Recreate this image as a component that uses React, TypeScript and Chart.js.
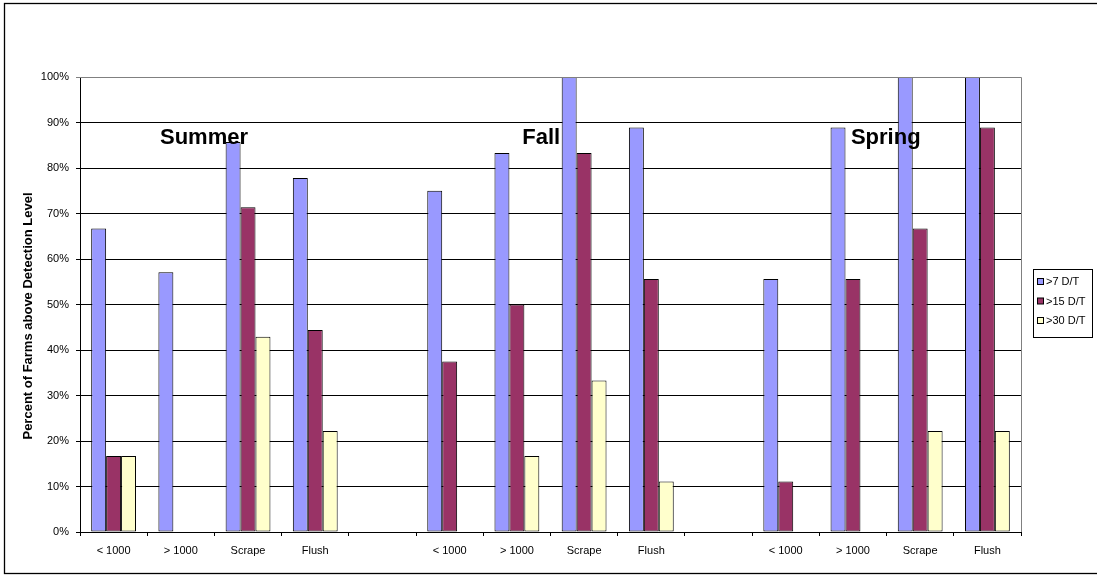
import { useEffect, useRef } from 'react';
import { Chart, registerables } from 'chart.js';

Chart.register(...registerables);

const categories = ['< 1000', '> 1000', 'Scrape', 'Flush', '', '< 1000', '> 1000', 'Scrape', 'Flush', '', '< 1000', '> 1000', 'Scrape', 'Flush'];
const over7 = [66.7, 57.1, 85.7, 77.8, null, 75, 83.3, 100, 88.9, null, 55.6, 88.9, 100, 100];
const over15 = [16.7, 0, 71.4, 44.4, null, 37.5, 50, 83.3, 55.6, null, 11.1, 55.6, 66.7, 88.9];
const over30 = [16.7, 0, 42.9, 22.2, null, 0, 16.7, 33.3, 11.1, null, 0, 0, 22.2, 22.2];
const seriesLabels = ['>7 D/T', '>15 D/T', '>30 D/T'];
const seriesColors = ['#9999FF', '#993366', '#FFFFCC'];
const seasonLabels = ['Summer', 'Fall', 'Spring'];
const yAxisTitle = 'Percent of Farms above Detection Level';

const FONT = "'Liberation Sans', Arial, sans-serif";

const decorPlugin = {
  id: 'decor',
  beforeDraw(chart: any) {
    const { ctx } = chart;
    ctx.save();
    ctx.strokeStyle = '#000';
    ctx.lineWidth = 1.3;
    ctx.strokeRect(4.5, 3.5, 1200, 570);
    ctx.restore();
  },
  afterDraw(chart: any) {
    const { ctx, chartArea } = chart;
    ctx.save();
    // plot area grey top/right border
    ctx.strokeStyle = '#808080';
    ctx.lineWidth = 1;
    ctx.beginPath();
    ctx.moveTo(chartArea.left, chartArea.top + 0.5);
    ctx.lineTo(chartArea.right + 0.5, chartArea.top + 0.5);
    ctx.lineTo(chartArea.right + 0.5, chartArea.bottom);
    ctx.stroke();

    // y axis title
    ctx.save();
    ctx.translate(28, 316);
    ctx.rotate(-Math.PI / 2);
    ctx.fillStyle = '#000';
    ctx.font = `bold 13px ${FONT}`;
    ctx.textAlign = 'center';
    ctx.textBaseline = 'middle';
    ctx.fillText(yAxisTitle, 0, 0);
    ctx.restore();

    // season labels
    const catW = chartArea.width / categories.length;
    const seasonAnchors = [1.19, 6.58, 11.47];
    const yScale = chart.scales.y;
    ctx.fillStyle = '#000';
    ctx.font = `bold 22px ${FONT}`;
    ctx.textAlign = 'left';
    ctx.textBaseline = 'middle';
    seasonLabels.forEach((s, i) => {
      ctx.fillText(s, chartArea.left + seasonAnchors[i] * catW, yScale.getPixelForValue(86.6));
    });

    // legend
    const lx = 1033.5, ly = 269.5, lw = 59, lh = 68;
    ctx.fillStyle = '#fff';
    ctx.fillRect(lx, ly, lw, lh);
    ctx.strokeStyle = '#000';
    ctx.lineWidth = 1;
    ctx.strokeRect(lx, ly, lw, lh);
    ctx.font = `11px ${FONT}`;
    ctx.textBaseline = 'middle';
    seriesLabels.forEach((lab, i) => {
      const cy = 282 + i * 19.5;
      ctx.fillStyle = seriesColors[i];
      ctx.fillRect(1037.5, cy - 3.5, 6, 6);
      ctx.strokeStyle = '#000';
      ctx.strokeRect(1037.5, cy - 3.5, 6, 6);
      ctx.fillStyle = '#000';
      ctx.fillText(lab, 1046, cy);
    });
    ctx.restore();
  },
};

export default function App() {
  const ref = useRef<HTMLCanvasElement>(null);
  useEffect(() => {
    if (!ref.current) return;
    const data = [over7, over15, over30];
    const chart = new Chart(ref.current, {
      type: 'bar',
      data: {
        labels: categories,
        datasets: data.map((d, i) => ({
          label: seriesLabels[i],
          data: d,
          backgroundColor: seriesColors[i],
          borderColor: '#000',
          borderWidth: 1,
          borderSkipped: false,
          categoryPercentage: 0.667,
          barPercentage: 1,
        })),
      },
      options: {
        animation: false,
        responsive: false,
        maintainAspectRatio: false,
        layout: { padding: { top: 77, right: 76, left: 0, bottom: 0 } },
        plugins: { legend: { display: false }, tooltip: { enabled: false } },
        scales: {
          x: {
            offset: true,
            grid: { offset: true, drawOnChartArea: false, drawTicks: true, tickLength: 4, color: '#000' },
            border: { color: '#000', width: 1 },
            ticks: { color: '#000', font: { family: FONT, size: 11 }, padding: 8, maxRotation: 0, autoSkip: false },
            afterFit: (s: any) => { s.height = 45; },
          },
          y: {
            min: 0,
            max: 100,
            ticks: { stepSize: 10, color: '#000', font: { family: FONT, size: 11 }, padding: 7, callback: (v: any) => `${v}%` },
            grid: { color: (c: any) => (c.tick && c.tick.value === 100 ? '#808080' : '#000'), tickLength: 4, lineWidth: 1 },
            border: { color: '#000', width: 1 },
            afterFit: (s: any) => { s.width = 80; },
          },
        },
      },
      plugins: [decorPlugin],
    });
    return () => chart.destroy();
  }, []);
  return (
    <div style={{ position: 'fixed', left: 0, top: 0, width: 1097, height: 577, background: '#fff' }}>
      <canvas ref={ref} width={1097} height={577} style={{ width: 1097, height: 577, display: 'block' }} />
    </div>
  );
}
